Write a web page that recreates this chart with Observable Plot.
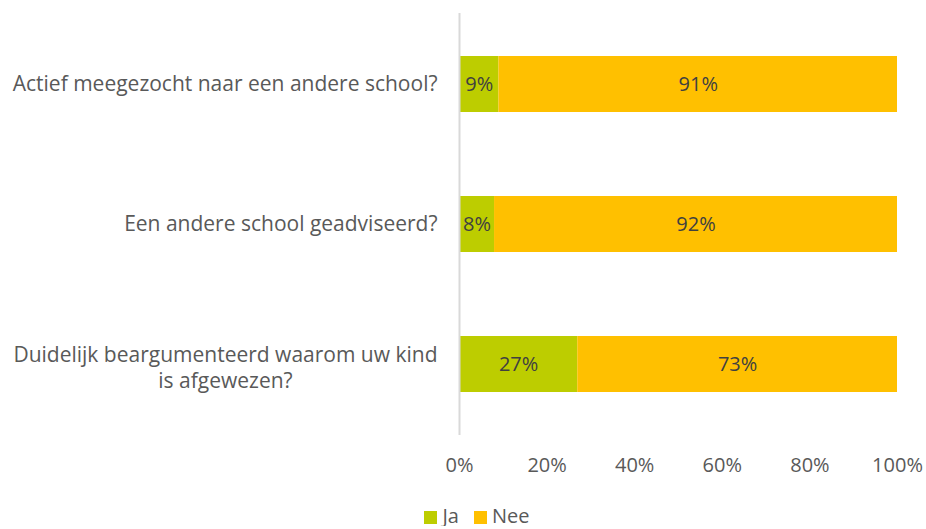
<!DOCTYPE html>
<html>
<head>
<meta charset="utf-8">
<script src="https://cdn.jsdelivr.net/npm/d3@7"></script>
<script src="https://cdn.jsdelivr.net/npm/@observablehq/plot@0.6"></script>
<style>
  html, body { margin: 0; padding: 0; background: #fff; }
  #legend { display: flex; justify-content: center; align-items: center; gap: 15px; font-family: "Open Sans", sans-serif; font-size: 20px; line-height: 20px; color: #595959; margin-left: 28px; margin-top: 16px; }
  #legend span.sw { display: inline-block; width: 13px; height: 13px; margin-right: 5px; vertical-align: -1px; }
</style>
</head>
<body>
<div id="chart"></div>
<div id="legend"></div>
<script>
const questions = [
  "Actief meegezocht naar een andere school?",
  "Een andere school geadviseerd?",
  "Duidelijk beargumenteerd waarom uw kind\nis afgewezen?"
];
const answers = ["Ja", "Nee"];
const ja  = [9, 8, 27];
const nee = [91, 92, 73];
const colors = ["#BDCD00", "#FFC000"];
const xTicks = [0, 20, 40, 60, 80, 100];

const data = [];
questions.forEach((q, i) => {
  data.push({question: q, answer: "Ja", value: ja[i]});
  data.push({question: q, answer: "Nee", value: nee[i]});
});

const fam = "'Open Sans', sans-serif";
const fsCat = 21;
const fs = 20;
const ctx = document.createElement("canvas").getContext("2d");
ctx.font = `${fsCat}px 'Open Sans'`;
const single = questions.filter(q => !q.includes("\n"));
const multi = questions.filter(q => q.includes("\n"));
const multiWidth = d3.max(multi.flatMap(q => q.split("\n")), s => ctx.measureText(s).width) || 0;

const gap = 22;
const chart = Plot.plot({
  width: 926,
  height: 490,
  marginLeft: 459,
  marginRight: 29,
  marginTop: 13,
  marginBottom: 55,
  style: {fontFamily: fam, fontSize: fs + "px", color: "#595959", background: "#fff"},
  x: {domain: [0, 100]},
  y: {domain: questions, paddingInner: 0.6, paddingOuter: 0.3, axis: null},
  color: {domain: answers, range: colors},
  marks: [
    Plot.barX(data, {x: "value", y: "question", fill: "answer", order: answers}),
    Plot.ruleX([0], {stroke: "#D9D9D9", strokeWidth: 2}),
    Plot.text(data, Plot.stackX({x: "value", y: "question", z: "answer", order: answers, text: d => d.value + "%", fill: "#404040", fontSize: fs})),
    Plot.axisX({ticks: xTicks, tickFormat: d => d + "%", tickSize: 0, tickPadding: 22, fontSize: fs, label: null}),
    Plot.text(single, {y: d => d, text: d => d, frameAnchor: "left", textAnchor: "end", dx: -gap, fill: "#595959", fontSize: fsCat}),
    Plot.text(multi, {y: d => d, text: d => d, frameAnchor: "left", textAnchor: "middle", dx: -(gap + multiWidth / 2), dy: 2, lineHeight: 1.25, fill: "#595959", fontSize: fsCat})
  ]
});
document.getElementById("chart").appendChild(chart);

const legend = document.getElementById("legend");
answers.forEach((a, i) => {
  const item = document.createElement("div");
  item.innerHTML = `<span class="sw" style="background:${colors[i]}"></span>${a}`;
  legend.appendChild(item);
});
</script>
</body>
</html>
